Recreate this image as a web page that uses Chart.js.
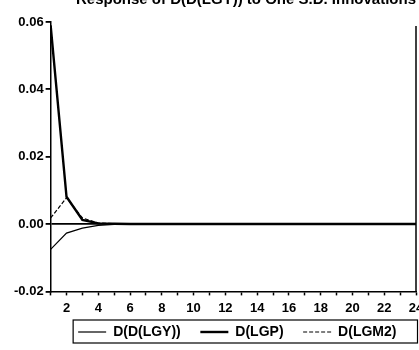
<!DOCTYPE html>
<html>
<head>
<meta charset="utf-8">
<script src="https://cdn.jsdelivr.net/npm/chart.js@4"></script>
<style>
    html, body { margin: 0; padding: 0; background: #fff; }
    .marco { position: relative; width: 419px; height: 350px; overflow: hidden; }
    .lienzo { position: absolute; left: 0; top: -9px; width: 419px; height: 359px; }
</style>
</head>
<body>
<div class="marco">
    <div class="lienzo"><canvas class="grafica"></canvas></div>
</div>
<script>
const periodos = [1, 2, 3, 4, 5, 6, 7, 8, 9, 10, 11, 12, 13, 14, 15, 16, 17, 18, 19, 20, 21, 22, 23, 24];
const respLGY = [-0.0075, -0.0027, -0.0012, -0.0004, -0.0001, 0, 0, 0, 0, 0, 0, 0, 0, 0, 0, 0, 0, 0, 0, 0, 0, 0, 0, 0];
const respLGP = [0.059, 0.0081, 0.0012, 0.0002, 0.0001, 0, 0, 0, 0, 0, 0, 0, 0, 0, 0, 0, 0, 0, 0, 0, 0, 0, 0, 0];
const respLGM2 = [0.0018, 0.0078, 0.0018, 0.0003, 0.0001, 0, 0, 0, 0, 0, 0, 0, 0, 0, 0, 0, 0, 0, 0, 0, 0, 0, 0, 0];
const nombres = ["D(D(LGY))", "D(LGP)", "D(LGM2)"];
const titulo = "Response of D(D(LGY)) to One S.D. Innovations";

const fuente = { family: "Arial, 'Liberation Sans', sans-serif", size: 13, weight: "bold" };

function puntos(valores) {
    return periodos.map((p, i) => ({ x: p, y: valores[i] }));
}

// recuadro alrededor de la leyenda y borde derecho del area
const marcos = {
    id: "marcos",
    afterDraw(chart) {
        const ctx = chart.ctx;
        const area = chart.chartArea;
        ctx.save();
        ctx.strokeStyle = "#000";
        ctx.lineWidth = 1.5;
        ctx.beginPath();
        ctx.moveTo(area.right, area.top + 4);
        ctx.lineTo(area.right, area.bottom);
        ctx.stroke();

        const cajas = chart.legend.legendHitBoxes;
        if (cajas && cajas.length) {
            const izq = Math.min(...cajas.map(c => c.left)) - 5;
            const der = chart.width - 1.5;
            const medio = cajas[0].top + cajas[0].height / 2;
            ctx.lineWidth = 1.2;
            ctx.strokeRect(izq, medio - 12, der - izq, 23);
        }
        ctx.restore();
    }
};

const data = {
    datasets: [{
        label: nombres[0],
        data: puntos(respLGY),
        borderColor: "#000",
        borderWidth: 1.2,
        pointRadius: 0
    }, {
        label: nombres[1],
        data: puntos(respLGP),
        borderColor: "#000",
        borderWidth: 2.4,
        pointRadius: 0
    }, {
        label: nombres[2],
        data: puntos(respLGM2),
        borderColor: "#000",
        borderWidth: 1.2,
        borderDash: [4, 2],
        pointRadius: 0
    }]
};

const config = {
    type: "line",
    data: data,
    plugins: [marcos],
    options: {
        responsive: true,
        maintainAspectRatio: false,
        animation: false,
        layout: { padding: { left: 12, right: 3, top: 0, bottom: 1 } },
        plugins: {
            title: {
                display: true,
                text: titulo,
                align: "end",
                color: "#000",
                font: { family: fuente.family, size: 15, weight: "bold" },
                padding: { top: 0, bottom: 13 }
            },
            legend: {
                position: "bottom",
                align: "end",
                labels: {
                    color: "#000",
                    font: { family: fuente.family, size: 14, weight: "bold" },
                    usePointStyle: true,
                    pointStyle: "line",
                    pointStyleWidth: 28,
                    padding: 4,
                    // trazo de cada serie en la leyenda, con su grosor y guiones
                    generateLabels(chart) {
                        const base = Chart.defaults.plugins.legend.labels.generateLabels(chart);
                        return base.map(item => {
                            const ds = chart.data.datasets[item.datasetIndex];
                            item.lineDash = ds.borderDash || [];
                            item.lineWidth = ds.borderWidth;
                            item.text = item.text + "    ";
                            return item;
                        });
                    }
                }
            },
            tooltip: { enabled: false }
        },
        scales: {
            x: {
                type: "linear",
                min: 1,
                max: 24,
                ticks: {
                    stepSize: 1,
                    autoSkip: false,
                    maxRotation: 0,
                    color: "#000",
                    font: fuente,
                    padding: 5,
                    callback: v => (v % 2 === 0 ? v : "")
                },
                grid: { drawOnChartArea: false, drawTicks: true, tickLength: 4, tickColor: "#000", tickWidth: 1.5 },
                border: { color: "#000", width: 1.5 },
                afterFit(scale) { scale.paddingRight = 0; }
            },
            y: {
                min: -0.02,
                max: 0.06,
                ticks: {
                    stepSize: 0.02,
                    color: "#000",
                    font: fuente,
                    padding: 2,
                    callback: v => v.toFixed(2)
                },
                grid: {
                    drawTicks: true,
                    tickLength: 5,
                    tickColor: "#000",
                    color: ctx => (ctx.tick && Math.abs(ctx.tick.value) < 1e-9 ? "#000" : "rgba(0,0,0,0)"),
                    lineWidth: 1.8
                },
                border: { color: "#000", width: 1.5 }
            }
        }
    }
};

const ctx = document.querySelector(".grafica");
const graficaImpulso = new Chart(ctx, config);
</script>
</body>
</html>
